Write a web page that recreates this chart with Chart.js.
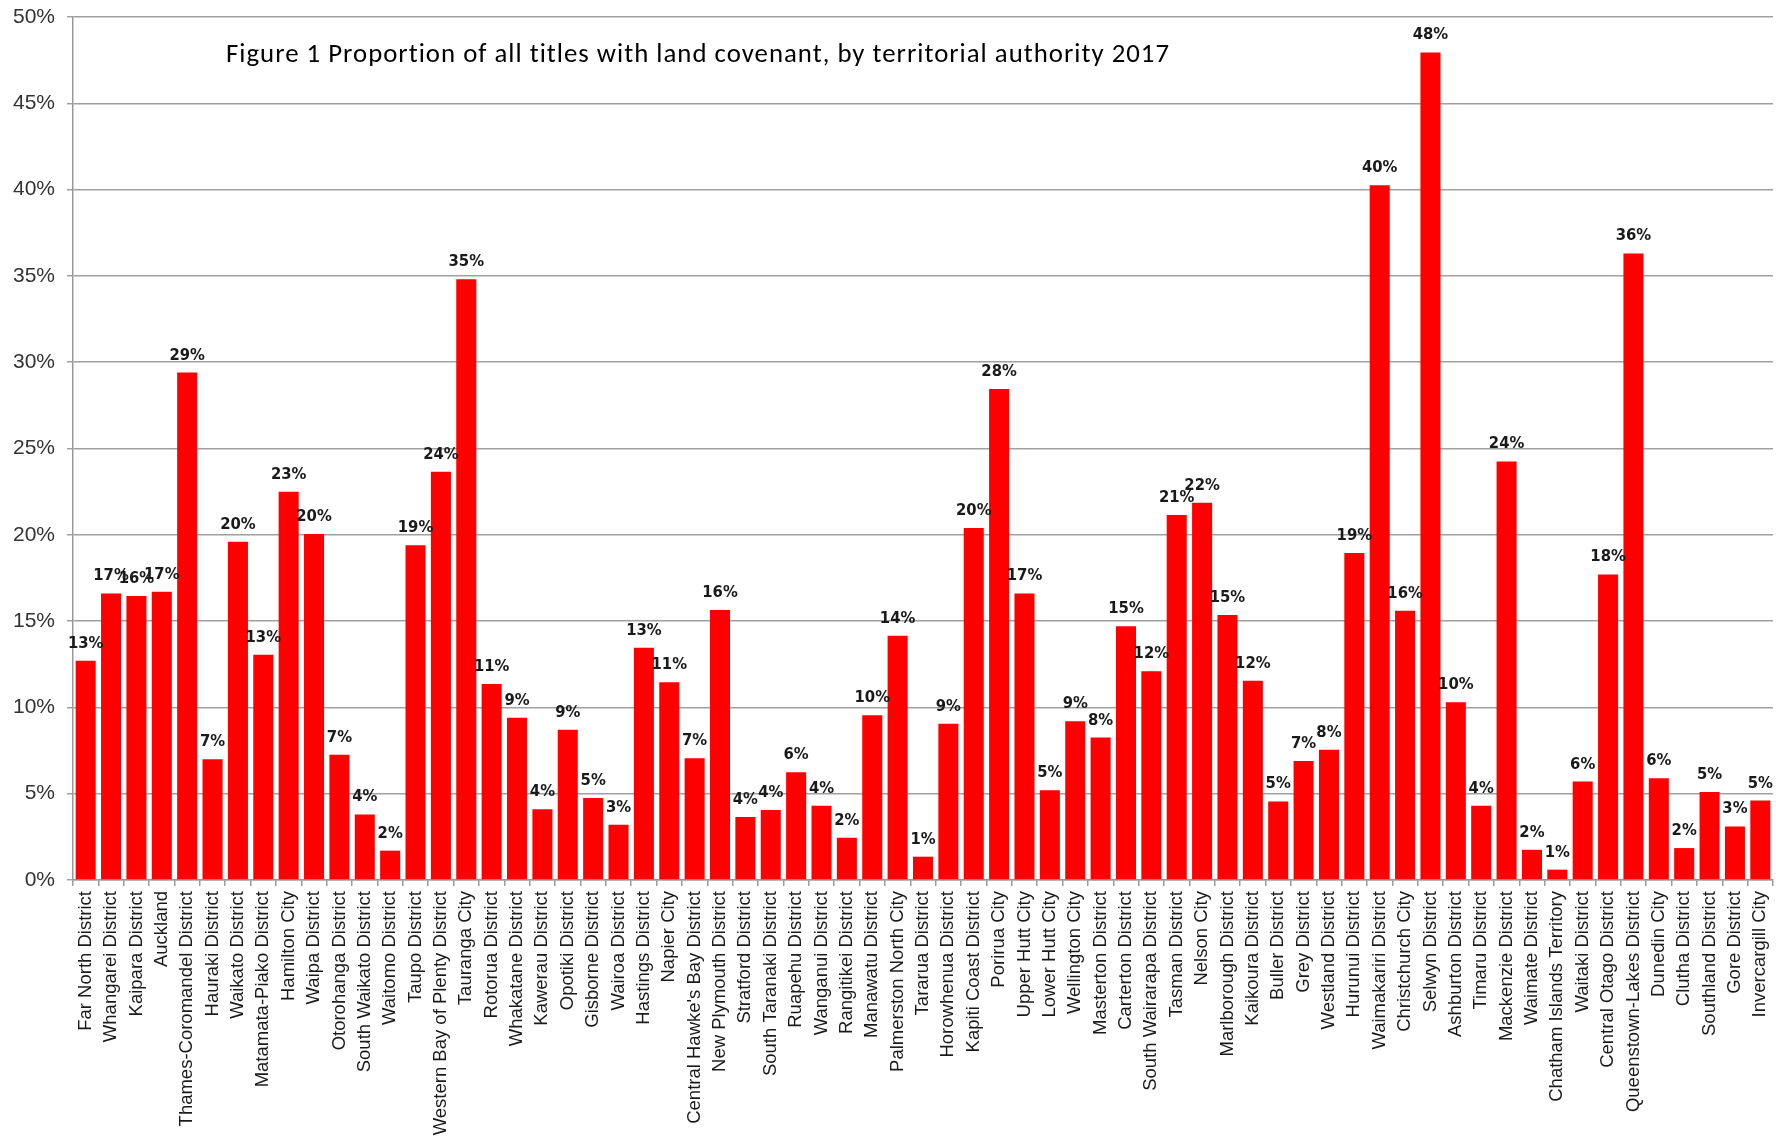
<!DOCTYPE html>
<html>
<head>
<meta charset="utf-8">
<script src="https://cdn.jsdelivr.net/npm/chart.js@4.4.1/dist/chart.umd.min.js"></script>
<style>
  html, body { margin: 0; padding: 0; background: #fff; }
  #wrap { width: 1776px; height: 1140px; position: relative; }
</style>
</head>
<body>
<div id="wrap"><canvas id="chart"></canvas></div>
<script>
/* ── data ── */
const TITLE = 'Figure 1 Proportion of all titles with land covenant, by territorial authority 2017';

const categories = [
  'Far North District', 'Whangarei District', 'Kaipara District', 'Auckland',
  'Thames-Coromandel District', 'Hauraki District', 'Waikato District', 'Matamata-Piako District',
  'Hamilton City', 'Waipa District', 'Otorohanga District', 'South Waikato District',
  'Waitomo District', 'Taupo District', 'Western Bay of Plenty District', 'Tauranga City',
  'Rotorua District', 'Whakatane District', 'Kawerau District', 'Opotiki District',
  'Gisborne District', 'Wairoa District', 'Hastings District', 'Napier City',
  "Central Hawke's Bay District", 'New Plymouth District', 'Stratford District', 'South Taranaki District',
  'Ruapehu District', 'Wanganui District', 'Rangitikei District', 'Manawatu District',
  'Palmerston North City', 'Tararua District', 'Horowhenua District', 'Kapiti Coast District',
  'Porirua City', 'Upper Hutt City', 'Lower Hutt City', 'Wellington City',
  'Masterton District', 'Carterton District', 'South Wairarapa District', 'Tasman District',
  'Nelson City', 'Marlborough District', 'Kaikoura District', 'Buller District',
  'Grey District', 'Westland District', 'Hurunui District', 'Waimakariri District',
  'Christchurch City', 'Selwyn District', 'Ashburton District', 'Timaru District',
  'Mackenzie District', 'Waimate District', 'Chatham Islands Territory', 'Waitaki District',
  'Central Otago District', 'Queenstown-Lakes District', 'Dunedin City', 'Clutha District',
  'Southland District', 'Gore District', 'Invercargill City'
];

// percent of titles with a land covenant
const shares = [
  12.7, 16.6, 16.45, 16.7,
  29.4, 7.0, 19.6, 13.05,
  22.5, 20.05, 7.25, 3.8,
  1.7, 19.4, 23.65, 34.8,
  11.35, 9.4, 4.1, 8.7,
  4.75, 3.2, 13.45, 11.45,
  7.05, 15.65, 3.65, 4.05,
  6.25, 4.3, 2.45, 9.55,
  14.15, 1.35, 9.05, 20.4,
  28.45, 16.6, 5.2, 9.2,
  8.25, 14.7, 12.1, 21.15,
  21.85, 15.35, 11.55, 4.55,
  6.9, 7.55, 18.95, 40.25,
  15.6, 47.95, 10.3, 4.3,
  24.25, 1.75, 0.6, 5.7,
  17.7, 36.3, 5.9, 1.85,
  5.1, 3.1, 4.6
];

const yMin = 0, yMax = 50, yStep = 5;

/* ── plugins ── */
const chartTitle = {
  id: 'chartTitle',
  afterDraw(chart) {
    const ctx = chart.ctx;
    ctx.save();
    ctx.fillStyle = '#000';
    ctx.font = '27px Carlito, Lato, "Open Sans", sans-serif';
    ctx.letterSpacing = '1px';
    ctx.textAlign = 'left';
    ctx.textBaseline = 'alphabetic';
    ctx.fillText(TITLE, 226, 62, 944);
    ctx.restore();
  }
};

const barLabels = {
  id: 'barLabels',
  afterDatasetsDraw(chart) {
    const ctx  = chart.ctx;
    const meta = chart.getDatasetMeta(0);
    ctx.save();
    ctx.fillStyle = '#1a1a1a';
    ctx.font = 'bold 16.5px "Liberation Sans Narrow", "DejaVu Sans Condensed", sans-serif';
    ctx.textAlign = 'center';
    ctx.textBaseline = 'alphabetic';
    meta.data.forEach((bar, i) => {
      ctx.fillText(Math.round(shares[i]) + '%', bar.x, bar.y - 13);
    });
    ctx.restore();
  }
};

/* ── chart ── */
new Chart(document.getElementById('chart'), {
  type: 'bar',
  data: {
    labels: categories,
    datasets: [{
      data: shares,
      backgroundColor: '#ff0000',
      borderWidth: 0,
      barPercentage: 0.79,
      categoryPercentage: 1.0,
    }]
  },
  options: {
    responsive: true, maintainAspectRatio: false,
    animation: false,
    layout: { padding: { top: 17, right: 3, left: 0, bottom: 0 } },
    plugins: { legend: { display: false }, tooltip: { enabled: false }, title: { display: false } },
    scales: {
      x: {
        grid: { drawOnChartArea: false, drawTicks: true, tickLength: 6, color: '#999', lineWidth: 1.5 },
        border: { color: '#999', width: 1.5 },
        ticks: {
          autoSkip: false, maxRotation: 90, minRotation: 90, padding: 5,
          color: '#1a1a1a',
          font: { family: '"Liberation Sans", Arial, sans-serif', size: 18.5 },
        },
        afterFit(s) { s.height = 260; s.paddingLeft = 0; s.paddingRight = 0; },
      },
      y: {
        min: yMin, max: yMax,
        grid: { color: '#a0a0a0', lineWidth: 1.5, tickLength: 6 },
        border: { color: '#999', width: 1.5 },
        ticks: {
          stepSize: yStep, padding: 12,
          color: '#333',
          font: { family: '"Liberation Sans", Arial, sans-serif', size: 21 },
          callback: v => v + '%',
        },
        afterFit(s) { s.width = 73; s.paddingTop = 0; s.paddingBottom = 0; },
      }
    }
  },
  plugins: [chartTitle, barLabels]
});
</script>
</body>
</html>
